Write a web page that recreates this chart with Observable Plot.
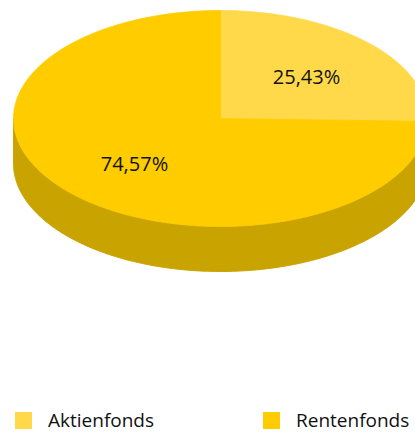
<!DOCTYPE html>
<html><head><meta charset="utf-8">
<script src="https://cdn.jsdelivr.net/npm/d3@7"></script>
<script src="https://cdn.jsdelivr.net/npm/@observablehq/plot@0.6"></script>
<style>
body{margin:0;overflow:hidden;background:#fff;font-family:"Open Sans",sans-serif;}
#chart svg{overflow:hidden;display:block}
#legend{position:relative;height:31px;}
.item{position:absolute;top:6px;height:18px;display:flex;align-items:center;font-size:19px;line-height:18px;color:#111;white-space:nowrap}
.sw{width:17px;height:17px;margin-right:16px;flex:none}
</style></head><body>
<div id="chart"></div>
<div id="legend"></div>
<script>
const categories = ["Aktienfonds", "Rentenfonds"];
const values = [25.43, 74.57];
const labels = ["25,43%", "74,57%"];
const colors = ["#FFD94A", "#FFCC00"];
const sideColors = ["#C9A500", "#C9A300"];

const depth = 0.4167;      // thickness of the disc in y units
const labelRadius = 0.58;
const arcs = d3.pie().sort(null).value(d => d)(values);
const pt = a => [Math.sin(a), Math.cos(a)];
const arcPts = (a0, a1) => {
  const n = Math.max(2, Math.ceil(Math.abs(a1 - a0) / 0.01));
  return d3.range(n + 1).map(i => pt(a0 + (a1 - a0) * i / n));
};

const marks = [];
// side (front half of the rim: angles pi/2 .. 3pi/2)
arcs.forEach((arc, i) => {
  const b0 = Math.max(arc.startAngle, Math.PI / 2);
  const b1 = Math.min(arc.endAngle, 3 * Math.PI / 2);
  if (b1 <= b0) return;
  const top = arcPts(b0, b1);
  const bottom = top.map(([x, y]) => [x, y - depth]).reverse();
  const poly = [...top, ...bottom, top[0]].map(([x, y]) => ({x, y}));
  marks.push(Plot.line(poly, {x: "x", y: "y", fill: sideColors[i], stroke: sideColors[i], strokeWidth: 1}));
});
// top faces
arcs.forEach((arc, i) => {
  const poly = [[0, 0], ...arcPts(arc.startAngle, arc.endAngle), [0, 0]].map(([x, y]) => ({x, y}));
  marks.push(Plot.line(poly, {x: "x", y: "y", fill: colors[i], stroke: colors[i], strokeWidth: 0.8}));
});
const labelRows = arcs.map((arc, i) => {
  const m = (arc.startAngle + arc.endAngle) / 2;
  return {x: Math.sin(m) * labelRadius, y: Math.cos(m) * labelRadius, text: labels[i]};
});
marks.push(Plot.text(labelRows, {x: "x", y: "y", text: "text", dy: 2.5, fontSize: 20, fontFamily: "Open Sans", fill: "#111"}));

const chart = Plot.plot({
  width: 415, height: 405, margin: 0,
  x: {domain: [-1, 1], range: [13, 427], axis: null},
  y: {domain: [-1, 1], range: [226, 10], axis: null},
  marks
});
document.getElementById("chart").appendChild(chart);

const lefts = [15, 263];
const legend = document.getElementById("legend");
categories.forEach((c, i) => {
  const it = document.createElement("div");
  it.className = "item";
  it.style.left = lefts[i] + "px";
  it.innerHTML = `<span class="sw" style="background:${colors[i]}"></span><span>${c}</span>`;
  legend.appendChild(it);
});
</script>
</body></html>
